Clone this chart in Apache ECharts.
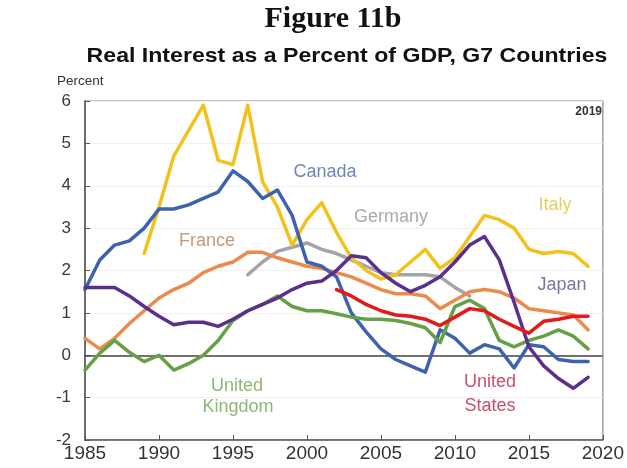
<!DOCTYPE html>
<html><head><meta charset="utf-8">
<script src="https://cdn.jsdelivr.net/npm/echarts@6/dist/echarts.min.js"></script>
<style>html,body{margin:0;padding:0;background:#fff}#c{width:627px;height:468px}</style>
</head><body><div id="c"></div>
<script>
const years = [1985,1986,1987,1988,1989,1990,1991,1992,1993,1994,1995,1996,1997,1998,1999,2000,2001,2002,2003,2004,2005,2006,2007,2008,2009,2010,2011,2012,2013,2014,2015,2016,2017,2018,2019];
const xTicks = [1985,1990,1995,2000,2005,2010,2015,2020];
const yTicks = [-2,-1,0,1,2,3,4,5,6];

const canada = [1.55,2.25,2.6,2.7,3.0,3.45,3.45,3.55,3.7,3.85,4.35,4.1,3.7,3.9,3.3,2.2,2.1,1.85,1.0,0.55,0.15,-0.1,-0.25,-0.4,0.6,0.4,0.05,0.25,0.15,-0.3,0.25,0.2,-0.1,-0.15,-0.15];
const italy = [null,null,null,null,2.4,3.5,4.7,5.3,5.9,4.6,4.5,5.9,4.1,3.5,2.6,3.2,3.6,2.9,2.3,2.0,1.8,1.9,2.2,2.5,2.05,2.3,2.8,3.3,3.2,3.0,2.5,2.4,2.45,2.4,2.1];
const france = [0.4,0.15,0.4,0.75,1.05,1.35,1.55,1.7,1.95,2.1,2.2,2.43,2.43,2.3,2.2,2.1,2.05,1.95,1.85,1.7,1.55,1.45,1.45,1.4,1.1,1.3,1.5,1.55,1.5,1.35,1.1,1.05,1.0,0.95,0.6];
const germany = [null,null,null,null,null,null,null,null,null,null,null,1.9,2.2,2.45,2.55,2.65,2.5,2.4,2.25,2.1,1.95,1.9,1.9,1.9,1.85,1.6,1.4,null,null,null,null,null,null,null,null];
const japan = [1.6,1.6,1.6,1.4,1.15,0.92,0.72,0.78,0.78,0.68,0.85,1.05,1.2,1.35,1.55,1.7,1.75,2.0,2.35,2.3,1.95,1.7,1.5,1.65,1.85,2.2,2.6,2.8,2.25,1.25,0.2,-0.25,-0.55,-0.78,-0.52];
const unitedKingdom = [-0.35,0.05,0.35,0.07,-0.15,0.0,-0.35,-0.2,0.0,0.35,0.82,1.05,1.2,1.4,1.15,1.05,1.05,0.98,0.9,0.85,0.85,0.82,0.75,0.65,0.3,1.15,1.3,1.1,0.35,0.2,0.35,0.45,0.6,0.45,0.15];
const unitedStates = [null,null,null,null,null,null,null,null,null,null,null,null,null,null,null,null,null,1.55,1.4,1.2,1.05,0.95,0.92,0.85,0.7,0.9,1.1,1.05,0.85,0.68,0.52,0.8,0.85,0.92,0.92];

const seriesDefs = [
  {name:'Germany', data:germany, color:'#a3a3aa'},
  {name:'France', data:france, color:'#ec8a4b'},
  {name:'Italy', data:italy, color:'#f2c21b'},
  {name:'Canada', data:canada, color:'#3d63ae'},
  {name:'United Kingdom', data:unitedKingdom, color:'#64a046'},
  {name:'Japan', data:japan, color:'#5a2f8e'},
  {name:'United States', data:unitedStates, color:'#e31a1a'}
];

function pairs(arr){
  const out = [];
  years.forEach((y,i)=>{ if(arr[i]!==null) out.push([y, arr[i]]); });
  return out;
}

const series = seriesDefs.map((s,idx)=>({
  name:s.name, type:'line', data:pairs(s.data), symbol:'none', smooth:false,
  lineStyle:{color:s.color, width:3.5, cap:'round', join:'round'},
  z: 3 + idx,
  animation:false
}));
series.push({
  type:'line', data:[], silent:true, z:2,
  markLine:{silent:true, symbol:'none', label:{show:false}, animation:false,
    lineStyle:{color:'#444', width:1.5, type:'solid'}, data:[{yAxis:0}]}
});

const chart = echarts.init(document.getElementById('c'), null, {renderer:'canvas'});
const txt = (text,x,y,font,fill,align,extra) => Object.assign({type:'text', x, y, z:100, silent:true,
  style:{text, font, fill, textAlign:align||'center', textVerticalAlign:'middle'}}, extra||{});

chart.setOption({
  animation:false,
  backgroundColor:'#fff',
  grid:{left:85, right:20, top:101, bottom:28, show:true, borderColor:'#888', borderWidth:1.2},
  xAxis:{type:'value', min:1985, max:2020, interval:5,
    axisLine:{show:true, onZero:false, lineStyle:{color:'#555', width:1.5}},
    axisTick:{show:true, inside:true, length:5, lineStyle:{color:'#555'}},
    axisLabel:{color:'#333', fontSize:19, fontFamily:'Arial, "Liberation Sans", sans-serif', margin:4,
      formatter:v=>xTicks.includes(v)?String(v):''},
    splitLine:{show:false}},
  yAxis:{type:'value', min:-2, max:6, interval:1,
    axisLine:{show:true, onZero:false, lineStyle:{color:'#555', width:1.5}},
    axisTick:{show:true, inside:true, length:5, lineStyle:{color:'#555'}},
    axisLabel:{color:'#3a3a3a', fontSize:17, fontFamily:'Arial, "Liberation Sans", sans-serif', margin:14,
      formatter:v=>yTicks.includes(v)?String(v):''},
    splitLine:{show:true, lineStyle:{color:'#f0f0f0', width:1}}},
  series,
  graphic:[
    txt('Figure 11b', 333, 19, 'bold 30px "Liberation Serif", "Times New Roman", serif', '#111'),
    txt('Real Interest as a Percent of GDP, G7 Countries', 347, 56, 'bold 21px Arial, "Liberation Sans", sans-serif', '#111', 'center', {scaleX:1.1}),
    txt('Percent', 57, 81, '13.5px Arial, "Liberation Sans", sans-serif', '#333', 'left'),
    txt('2019', 602, 112, 'bold 12px Arial, "Liberation Sans", sans-serif', '#333', 'right'),
    txt('Canada', 325, 172, '18px Arial, "Liberation Sans", sans-serif', '#6f86bd'),
    txt('Germany', 391, 217, '18px Arial, "Liberation Sans", sans-serif', '#aaaaaa'),
    txt('Italy', 555, 205, '18px Arial, "Liberation Sans", sans-serif', '#e6cf62'),
    txt('France', 207, 241, '18px Arial, "Liberation Sans", sans-serif', '#c9987a'),
    txt('Japan', 562, 285, '18px Arial, "Liberation Sans", sans-serif', '#7b73a6'),
    txt('United', 237, 386, '18px Arial, "Liberation Sans", sans-serif', '#8cb86f'),
    txt('Kingdom', 238, 407, '18px Arial, "Liberation Sans", sans-serif', '#8cb86f'),
    txt('United', 490, 382, '18px Arial, "Liberation Sans", sans-serif', '#c8506a'),
    txt('States', 490, 406, '18px Arial, "Liberation Sans", sans-serif', '#c8506a')
  ]
});
</script></body></html>
